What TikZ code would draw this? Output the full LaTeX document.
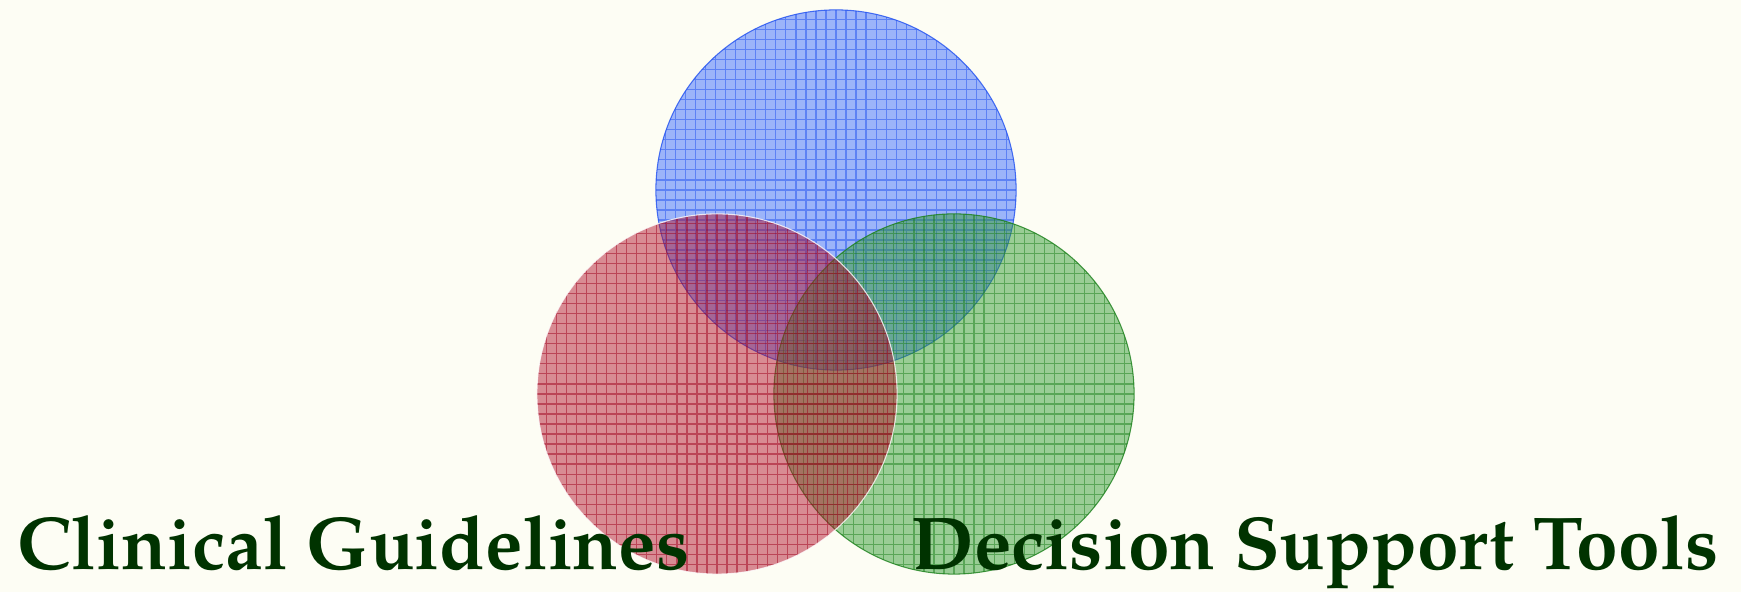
\documentclass[tikz,border=0pt]{standalone}
\usepackage{fontspec}
\newfontfamily\pal{TeX Gyre Pagella}
\usetikzlibrary{positioning}
\definecolor{cream}{HTML}{FDFDF4}
\definecolor{forest}{HTML}{003300}
\definecolor{sky}{HTML}{3366FF}
\definecolor{skyline}{HTML}{1F4FF0}
\definecolor{rose}{HTML}{B0102A}
\definecolor{roseline}{HTML}{A0001C}
\definecolor{leaf}{HTML}{2E9A2E}
\definecolor{leafline}{HTML}{1A801A}
\tikzset{ring/.style 2 args={circle,minimum size=3.6cm,inner sep=0pt,fill=#1,fill opacity=.48,draw=#2,draw opacity=.8,line width=.3pt,path picture={\draw[#2,draw opacity=.5,line width=.3pt,step=.1cm](path picture bounding box.south west) grid (path picture bounding box.north east);}},label/.style={font=\pal\bfseries\fontsize{21.3}{22}\selectfont,text=forest,inner sep=0pt}}
\begin{document}
\begin{tikzpicture}[x=.01cm,y=.01cm]
\fill[cream] (0,0) rectangle (1741,592);
\useasboundingbox (0,0) rectangle (1741,592);
\node[ring={sky}{skyline}] (evidence) at (836,402) {};
\node[ring={leaf}{leafline}] (tools) at (954,198) {};
\node[ring={rose}{roseline},draw=white] (guide) at (717,198) {};
\node[label,anchor=base west] (guidetext) at (17,22) {Clinical Guidelines};
\node[label,anchor=base east] (tooltext) at (1719,22) {Decision Support Tools};
\end{tikzpicture}
\end{document}
